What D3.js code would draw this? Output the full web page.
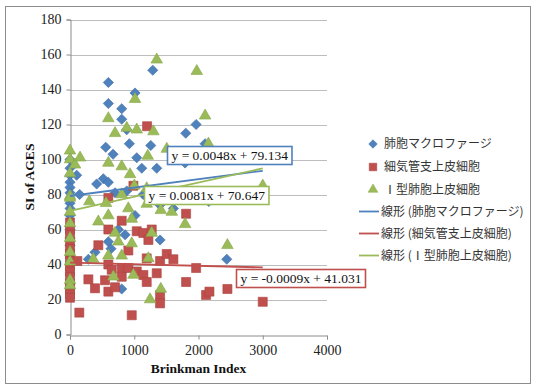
<!DOCTYPE html>
<html>
<head>
<meta charset="utf-8">
<script src="https://cdn.jsdelivr.net/npm/d3@7"></script>
<style>
  html, body { margin: 0; padding: 0; background: #fff; }
  svg { display: block; }
</style>
</head>
<body>
<svg id="chart" width="537" height="389"></svg>
<script>
// Series names
const seriesNames = ["肺胞マクロファージ", "細気管支上皮細胞", "Ⅰ型肺胞上皮細胞"];
const trendNames = ["線形 (肺胞マクロファージ)", "線形 (細気管支上皮細胞)", "線形 (Ⅰ型肺胞上皮細胞)"];

// [Brinkman Index, SI of AGES]
const macrophage = [
  [0,100],[0,95],[0,91],[0,87],[0,84],[0,81],[0,78],[0,75],[0,72],[0,68],[0,60],[0,55],[0,51],
  [104,91],[150,80],[286,43],[389,47],[415,86],[519,89],[556,107],[597,87],[597,144],[597,132],
  [597,53],[638,49],[670,103],[701,81],[752,60],[805,129],[805,123],[805,26],[857,57],[883,117],
  [883,82],[924,109],[1012,138],[1012,68],[1039,101],[1117,95],[1140,80],[1194,79],[1257,108],
  [1288,151],[1350,95],[1400,74],[1402,54],[1609,72],[1791,98],[1802,115],[1963,120],[2103,109],
  [2160,76],[2440,43],[3000,80]
];
const bronchiolar = [
  [0,64],[0,60],[0,57],[0,53],[0,49],[0,46],[0,42],[0,39],[0,36],[0,33],[0,29],[0,26],[0,23],[0,21],
  [114,42],[145,12.5],[286,31.5],[389,26.4],[441,51],[545,31],[597,78],[597,60],[597,40],[597,24.5],
  [649,37],[701,27],[805,65],[805,38],[805,33],[908,48],[908,38],[961,11],[987,85],[1039,59],
  [1039,36],[1142,58],[1142,34],[1194,43.5],[1194,30],[1200,119],[1220,54],[1272,60],[1350,35],
  [1402,42],[1402,22.6],[1402,17.8],[1506,46],[1609,43],[1807,69],[1807,30],[1963,38],[2118,22.6],
  [2170,24.5],[2450,26],[3000,18.7]
];
const type1 = [
  [0,105],[0,100],[0,92],[0,79],[0,78],[0,70],[0,63.5],[0,55],[0,47],[0,41.6],[0,31],[0,28],
  [78,97],[156,101],[301,76],[363,43],[441,64.5],[561,75],[597,123.5],[597,98],[597,68],[597,45],
  [675,33],[701,115],[701,58],[752,53],[805,96],[805,80],[805,45],[883,118],[908,72],[935,91.5],
  [961,66],[961,52],[987,34],[1002,85],[1012,134.5],[1039,117],[1194,83.5],[1194,74.6],[1210,102],
  [1220,43.5],[1246,20],[1272,58],[1298,116],[1350,157],[1413,71],[1413,26],[1506,106],[1584,70],
  [1791,100],[1791,63],[1973,150.5],[2103,125],[2154,109],[2450,51],[3000,85]
];

// Linear trend coefficients (y = slope * x + intercept) and fitted range
const trendSlope = [0.0048, -0.0009, 0.0081];
const trendIntercept = [79.134, 41.031, 70.647];
const trendRange = [0, 3000];

// Axis ticks
const xTicks = [0, 1000, 2000, 3000, 4000];
const yTicks = [0, 20, 40, 60, 80, 100, 120, 140, 160, 180];

const colors = ["#4f81bd", "#c0504d", "#9bbb59"];
const strokes = ["#3a6ea5", "#a94340", "#86a84a"];

const svg = d3.select("#chart");

// outer chart frame
svg.append("rect")
  .attr("x", 5.5).attr("y", 6.5).attr("width", 525).attr("height", 377)
  .attr("fill", "#fff").attr("stroke", "#8c8c8c").attr("stroke-width", 1);

const plot = { left: 70, right: 327, top: 19.5, bottom: 334.5 };
const x = d3.scaleLinear().domain([0, 4000]).range([plot.left, plot.right]);
const y = d3.scaleLinear().domain([0, 180]).range([plot.bottom, plot.top]);

const serif = "'Liberation Serif', 'DejaVu Serif', serif";

// horizontal gridlines
svg.append("g").selectAll("line")
  .data(yTicks.filter(d => d > 0))
  .join("line")
  .attr("x1", plot.left).attr("x2", plot.right)
  .attr("y1", d => Math.round(y(d)) + 0.5).attr("y2", d => Math.round(y(d)) + 0.5)
  .attr("stroke", "#bdbdbd").attr("stroke-width", 1);

// axes
const xAxis = svg.append("g")
  .attr("transform", `translate(0,${Math.round(plot.bottom) + 0.5})`)
  .call(d3.axisBottom(x).tickValues(xTicks).tickSize(4).tickPadding(6).tickFormat(d3.format("d")));
const yAxis = svg.append("g")
  .attr("transform", `translate(${plot.left + 0.5},0)`)
  .call(d3.axisLeft(y).tickValues(yTicks).tickSize(4).tickPadding(5).tickFormat(d3.format("d")));

[xAxis, yAxis].forEach(g => {
  g.select(".domain").attr("stroke", "#8c8c8c");
  g.selectAll(".tick line").attr("stroke", "#8c8c8c");
  g.selectAll(".tick text").attr("font-family", serif).attr("font-size", 14).attr("fill", "#222");
});

// axis titles
svg.append("text")
  .attr("x", (plot.left + plot.right) / 2).attr("y", 373)
  .attr("text-anchor", "middle")
  .attr("font-family", serif).attr("font-weight", "bold").attr("font-size", 13.5)
  .attr("fill", "#111")
  .text("Brinkman Index");
svg.append("text")
  .attr("transform", `translate(34,${(plot.top + plot.bottom) / 2}) rotate(-90)`)
  .attr("text-anchor", "middle")
  .attr("font-family", serif).attr("font-weight", "bold").attr("font-size", 13.5)
  .attr("fill", "#111")
  .text("SI of AGES");

// markers
const shapes = [
  { type: d3.symbolSquare, size: 52, rotate: 45 },
  { type: d3.symbolSquare, size: 82, rotate: 0 },
  { type: d3.symbolTriangle, size: 58, rotate: 0 }
];
const allSeries = [macrophage, bronchiolar, type1];

allSeries.forEach((data, i) => {
  const sym = d3.symbol().type(shapes[i].type).size(shapes[i].size);
  svg.append("g").selectAll("path")
    .data(data)
    .join("path")
    .attr("d", sym)
    .attr("transform", d => `translate(${x(d[0])},${y(d[1])}) rotate(${shapes[i].rotate})`)
    .attr("fill", colors[i])
    .attr("stroke", strokes[i])
    .attr("stroke-width", 0.6);
});

// trend lines
const trendG = svg.append("g");
trendSlope.forEach((m, i) => {
  const b = trendIntercept[i];
  trendG.append("line")
    .attr("x1", x(trendRange[0])).attr("y1", y(m * trendRange[0] + b))
    .attr("x2", x(trendRange[1])).attr("y2", y(m * trendRange[1] + b))
    .attr("stroke", colors[i]).attr("stroke-width", 1.8);
});

// equation labels
function fmtEq(m, b) {
  return `y = ${m < 0 ? "-" : ""}${Math.abs(m).toFixed(4)}x + ${b.toFixed(3)}`;
}
const eqPos = [[167.5, 146.5], [236.5, 269.5], [144.5, 186.5]];
const eqOrder = [0, 2, 1];
eqOrder.forEach(i => {
  const g = svg.append("g").attr("transform", `translate(${eqPos[i][0]},${eqPos[i][1]})`);
  const rect = g.append("rect").attr("fill", "#fff").attr("stroke", colors[i]).attr("stroke-width", 1.6);
  const t = g.append("text")
    .attr("x", 4).attr("y", 13.5)
    .attr("font-family", serif).attr("font-size", 13.5).attr("fill", "#111")
    .text(fmtEq(trendSlope[i], trendIntercept[i]));
  const w = t.node().getComputedTextLength();
  rect.attr("width", w + 8).attr("height", 18);
});

// legend
const legendRows = [144, 167, 189.5, 211.5, 233.5, 255.5];
const legend = svg.append("g");
const jp = "'Noto Sans CJK JP', 'Noto Sans', sans-serif";
seriesNames.forEach((name, i) => {
  const yy = legendRows[i];
  const sym = d3.symbol().type(shapes[i].type).size(shapes[i].size * 0.7);
  legend.append("path")
    .attr("d", sym)
    .attr("transform", `translate(373,${yy}) rotate(${shapes[i].rotate})`)
    .attr("fill", colors[i]).attr("stroke", strokes[i]).attr("stroke-width", 0.5);
  legend.append("text")
    .attr("x", 384).attr("y", yy).attr("dy", "0.36em")
    .attr("font-family", jp).attr("font-size", 12).attr("fill", "#333")
    .text(name);
});
trendNames.forEach((name, i) => {
  const yy = legendRows[i + 3];
  legend.append("line")
    .attr("x1", 359).attr("x2", 379).attr("y1", yy).attr("y2", yy)
    .attr("stroke", colors[i]).attr("stroke-width", 1.8);
  legend.append("text")
    .attr("x", 381).attr("y", yy).attr("dy", "0.36em")
    .attr("font-family", jp).attr("font-size", 12).attr("fill", "#333")
    .text(name);
});
</script>
</body>
</html>
